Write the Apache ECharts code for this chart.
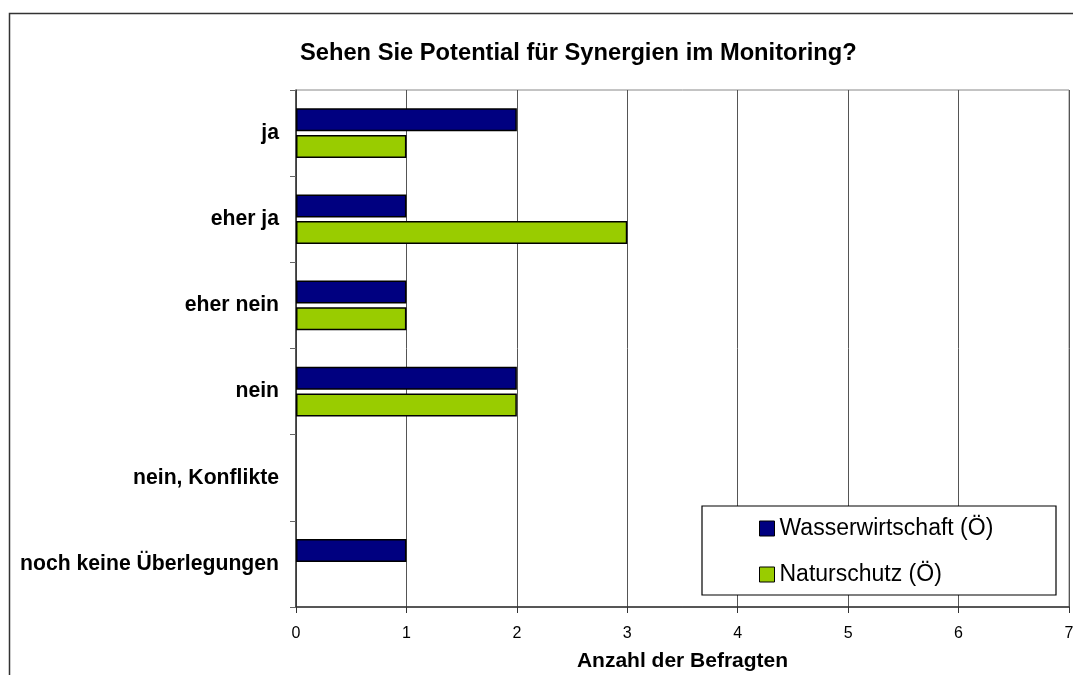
<!DOCTYPE html>
<html>
<head>
<meta charset="utf-8">
<script src="https://cdn.jsdelivr.net/npm/echarts@6/dist/echarts.min.js"></script>
<style>
  html, body { margin: 0; padding: 0; background: #fff; }
  #main { width: 1073px; height: 675px; }
</style>
</head>
<body>
<div id="main"></div>
<script>
const categories = ['ja', 'eher ja', 'eher nein', 'nein', 'nein, Konflikte', 'noch keine Überlegungen'];
const wasser = [2, 1, 1, 2, 0, 1];
const natur = [1, 3, 1, 2, 0, 0];
const xTicks = [0, 1, 2, 3, 4, 5, 6, 7];

const font = 'Liberation Sans, Arial, sans-serif';
// zero values get no bar at all (no border stub)
const noZero = arr => arr.map(v => (v === 0 ? '-' : v));

const chart = echarts.init(document.getElementById('main'));

chart.setOption({
  backgroundColor: '#fff',
  animation: false,
  title: {
    text: 'Sehen Sie Potential für Synergien im Monitoring?',
    left: 300,
    top: 41,
    padding: 0,
    textStyle: { fontFamily: font, fontSize: 23.7, fontWeight: 'bold', color: '#000' }
  },
  graphic: [
    {
      type: 'rect', z: 100, silent: true,
      shape: { x: 9.5, y: 13.5, width: 1100, height: 700 },
      style: { fill: 'none', stroke: '#333', lineWidth: 1.5 }
    },
    {
      type: 'rect', z: 50, silent: true,
      shape: { x: 702, y: 506, width: 354, height: 89 },
      style: { fill: '#fff', stroke: '#000', lineWidth: 1.2 }
    }
  ],
  legend: {
    orient: 'vertical',
    left: 759,
    top: 517,
    padding: 0,
    z: 60,
    icon: 'rect',
    itemWidth: 15,
    itemHeight: 15,
    itemGap: 23,
    textStyle: { fontFamily: font, fontSize: 23, color: '#000' },
    data: [
      { name: 'Wasserwirtschaft (Ö)', itemStyle: { borderColor: '#000', borderWidth: 1 } },
      { name: 'Naturschutz (Ö)', itemStyle: { borderColor: '#000', borderWidth: 1 } }
    ]
  },
  grid: {
    left: 296, right: 4, top: 90, bottom: 68,
    outerBoundsMode: 'none',
    show: true, borderColor: '#888', borderWidth: 1
  },
  xAxis: {
    type: 'value',
    min: xTicks[0],
    max: xTicks[xTicks.length - 1],
    interval: 1,
    name: 'Anzahl der Befragten',
    nameLocation: 'middle',
    nameGap: 44,
    nameTextStyle: { fontFamily: font, fontSize: 21, fontWeight: 'bold', color: '#000' },
    axisLine: { show: true, lineStyle: { color: '#333', width: 1.5 } },
    axisTick: { show: true, length: 6, lineStyle: { color: '#333' } },
    axisLabel: { margin: 19, fontFamily: font, fontSize: 16, color: '#000' },
    splitLine: { show: true, lineStyle: { color: '#555', width: 1 } }
  },
  yAxis: {
    type: 'category',
    inverse: true,
    data: categories,
    axisLine: { show: true, lineStyle: { color: '#333', width: 1.5 } },
    axisTick: { show: true, length: 6, lineStyle: { color: '#666' } },
    axisLabel: { margin: 17, fontFamily: font, fontSize: 21.2, fontWeight: 'bold', color: '#000' },
    splitLine: { show: false }
  },
  series: [
    {
      name: 'Wasserwirtschaft (Ö)',
      type: 'bar',
      data: noZero(wasser),
      barWidth: 23,
      barGap: '16%',
      itemStyle: { color: '#000080', borderColor: '#000', borderWidth: 1.5 }
    },
    {
      name: 'Naturschutz (Ö)',
      type: 'bar',
      data: noZero(natur),
      barWidth: 23,
      itemStyle: { color: '#99CC00', borderColor: '#000', borderWidth: 1.5 }
    }
  ]
});
</script>
</body>
</html>
